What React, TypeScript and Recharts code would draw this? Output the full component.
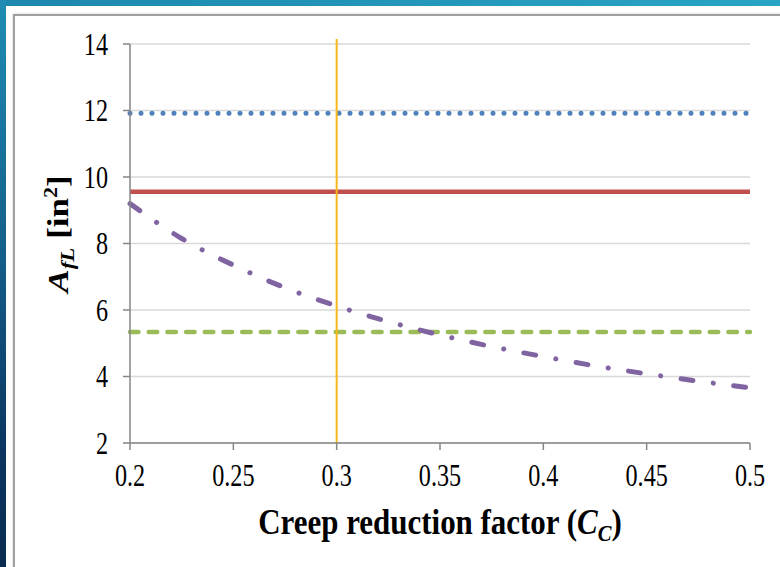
import React from 'react';
import { LineChart, Line, XAxis, YAxis, CartesianGrid, ReferenceLine } from 'recharts';

const ccValues = [0.2, 0.225, 0.25, 0.275, 0.3, 0.325, 0.35, 0.375, 0.4, 0.425, 0.45, 0.475, 0.5];
const purpleValues = [9.2, 8.15, 7.35, 6.67, 6.12, 5.65, 5.25, 4.9, 4.6, 4.32, 4.08, 3.86, 3.66];
const blueLevel = 11.92;
const redLevel = 9.56;
const greenLevel = 5.34;
const xTicks = [0.2, 0.25, 0.3, 0.35, 0.4, 0.45, 0.5];
const yTicks = [2, 4, 6, 8, 10, 12, 14];
const yellowX = 0.3;
const yellowSpan = [2, 14.15];

const data = ccValues.map((c, i) => ({
  cc: c,
  blue: blueLevel,
  red: redLevel,
  green: greenLevel,
  purple: purpleValues[i],
}));

const FONT = '"Liberation Serif", "Times New Roman", serif';
const SX = 0.78;
const TICK_FS = 31;

const XTick = (props: any) => {
  const { x, y, payload } = props;
  return (
    <text transform={`translate(${x},${y + 28}) scale(${SX},1)`} textAnchor="middle" fontFamily={FONT} fontSize={TICK_FS} fill="#000">
      {String(payload.value)}
    </text>
  );
};

const YTick = (props: any) => {
  const { x, y, payload } = props;
  return (
    <text transform={`translate(${x},${y + 10.5}) scale(${SX},1)`} textAnchor="end" fontFamily={FONT} fontSize={TICK_FS} fill="#000">
      {String(payload.value)}
    </text>
  );
};

const XLabel = (props: any) => {
  const { x, width } = props.viewBox;
  return (
    <text transform={`translate(${x + width / 2},534) scale(0.86,1)`} textAnchor="middle" fontFamily={FONT} fontWeight="bold" fontSize={36} fill="#000">
      <tspan>Creep reduction factor (</tspan>
      <tspan fontStyle="italic">C</tspan>
      <tspan fontStyle="italic" fontSize={24} dy={7}>C</tspan>
      <tspan dy={-7}>)</tspan>
    </text>
  );
};

const YLabel = () => {
  const cx = 68;
  const cy = 234;
  return (
    <text transform={`translate(${cx},${cy}) scale(0.85,1) rotate(-90)`} textAnchor="middle" fontFamily={FONT} fontWeight="bold" fontSize={35} fill="#000">
      <tspan fontStyle="italic">A</tspan>
      <tspan fontStyle="italic" fontSize={23} dy={7}>fL</tspan>
      <tspan dy={-7}>{'  [in'}</tspan>
      <tspan fontSize={22} dy={-13}>2</tspan>
      <tspan dy={13}>]</tspan>
    </text>
  );
};

export default function App() {
  return (
    <div style={{ position: 'absolute', left: 0, top: 0, width: 780, height: 567, background: '#fff', overflow: 'hidden' }}>
      <div style={{ position: 'absolute', left: 0, top: 0, width: 780, height: 6, background: 'linear-gradient(to right, #1d87ae, #28a4c4)' }} />
      <div style={{ position: 'absolute', left: 0, top: 0, width: 6, height: 567, background: 'linear-gradient(to bottom, #1f8db3, #145f8a 45%, #0b3560 80%, #0a2c50)' }} />
      <div style={{ position: 'absolute', left: 13, top: 14, width: 800, height: 600, border: '2px solid #a0a0a0', boxShadow: '0 0 2px #c8c8c8' }} />
      <div style={{ position: 'absolute', left: 0, top: 0 }}>
        <LineChart width={780} height={567} data={data} margin={{ top: 44, right: 30, bottom: 0, left: 0 }}>
          <CartesianGrid vertical={false} stroke="#d9d9d9" strokeWidth={1.5} />
          <XAxis
            dataKey="cc"
            type="number"
            domain={[0.2, 0.5]}
            ticks={xTicks}
            height={124}
            stroke="#868686"
            strokeWidth={1.5}
            tickSize={7}
            tickMargin={8}
            tick={<XTick />}
            label={<XLabel />}
          />
          <YAxis
            type="number"
            domain={[2, 14]}
            ticks={yTicks}
            width={130}
            stroke="#868686"
            strokeWidth={1.5}
            tickSize={7}
            tickMargin={15}
            tick={<YTick />}
            label={<YLabel />}
          />
          <Line dataKey="blue" stroke="#4f81bd" strokeWidth={5} strokeDasharray="0 11" strokeLinecap="round" dot={false} isAnimationActive={false} />
          <Line dataKey="red" stroke="#c0504d" strokeWidth={4.5} dot={false} isAnimationActive={false} />
          <Line dataKey="green" stroke="#9bbb59" strokeWidth={4.5} strokeDasharray="8.5 10.2" strokeLinecap="round" dot={false} isAnimationActive={false} />
          <Line dataKey="purple" type="monotone" stroke="#8064a2" strokeWidth={5} strokeDasharray="12 20.5 0.1 20.5" strokeLinecap="round" dot={false} isAnimationActive={false} />
          <ReferenceLine
            segment={[{ x: yellowX, y: yellowSpan[0] }, { x: yellowX, y: yellowSpan[1] }]}
            ifOverflow="visible"
            stroke="#f6b81a"
            strokeWidth={2}
          />
        </LineChart>
      </div>
    </div>
  );
}
